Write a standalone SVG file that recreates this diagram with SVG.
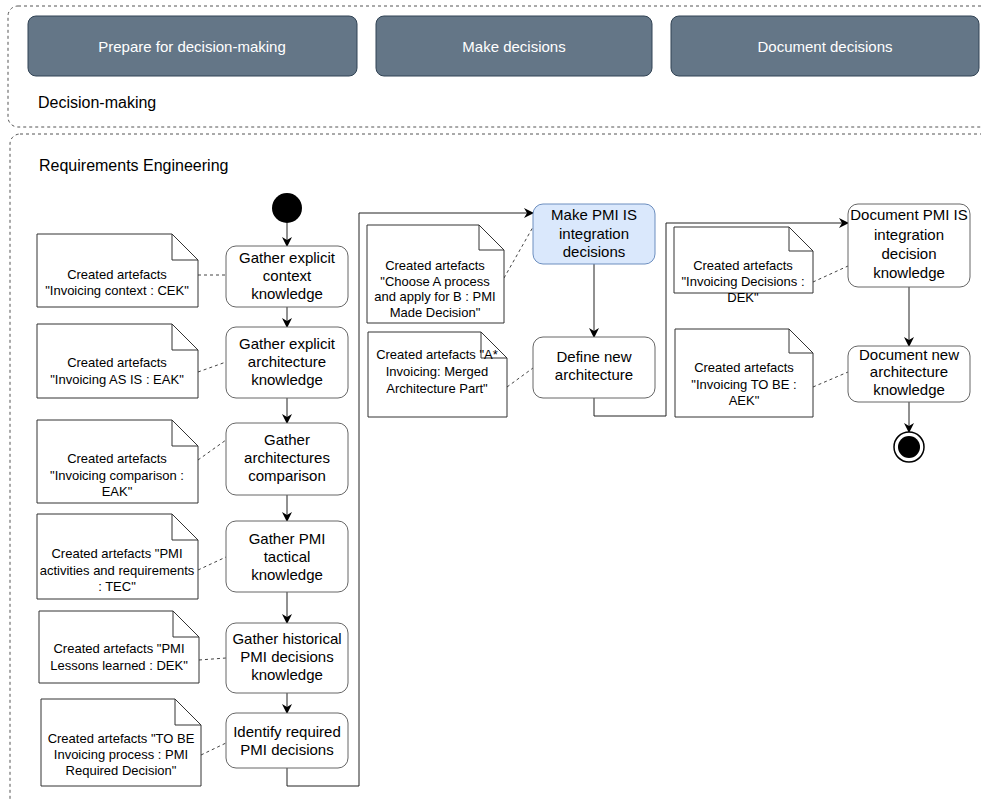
<svg xmlns="http://www.w3.org/2000/svg" width="981" height="799" viewBox="0 0 981 799">
  <style>
    .lane { fill: none; stroke: #555; stroke-width: 1; stroke-dasharray: 3 3; }
    .lane-label { font-family: "Liberation Sans", Arial, sans-serif; font-size: 16px; fill: #000; }
    .phase rect { fill: #647687; stroke: #314354; stroke-width: 1; }
    .phase text { font-family: "Liberation Sans", Arial, sans-serif; font-size: 15px; fill: #fff; text-anchor: middle; }
    .act rect { fill: #fff; stroke: #666; stroke-width: 1; }
    .act.hl rect { fill: #dae8fc; stroke: #6c8ebf; }
    .act text { font-family: "Liberation Sans", Arial, sans-serif; font-size: 15px; fill: #000; text-anchor: middle; }
    .note path { fill: #fff; stroke: #333; stroke-width: 1; }
    .note text { font-family: "Liberation Sans", Arial, sans-serif; font-size: 13px; fill: #000; text-anchor: middle; }
    .flow { fill: none; stroke: #222; stroke-width: 1; marker-end: url(#arrow); }
    .assoc { fill: none; stroke: #444; stroke-width: 1; stroke-dasharray: 3 3; }
  </style>
  <defs>
    <marker id="arrow" viewBox="0 0 10 10" refX="9" refY="5" markerWidth="10" markerHeight="10" markerUnits="userSpaceOnUse" orient="auto">
      <path d="M0,0 L10,5 L0,10 L3,5 Z" fill="#000"/>
    </marker>
  </defs>

  <!-- swimlanes -->
  <g id="lane-decision-making">
    <rect class="lane" x="8" y="6" width="990" height="121" rx="10"/>
    <text class="lane-label" x="38" y="108">Decision-making</text>
  </g>
  <g id="lane-requirements">
    <rect class="lane" x="10" y="134" width="990" height="680" rx="10"/>
    <text class="lane-label" x="39" y="171">Requirements Engineering</text>
  </g>

  <!-- phases -->
  <g id="phase-prepare" class="phase">
    <rect x="28" y="16" width="329" height="60" rx="8"/>
    <text x="192" y="52">Prepare for decision-making</text>
  </g>
  <g id="phase-make" class="phase">
    <rect x="376" y="16" width="276" height="60" rx="8"/>
    <text x="514" y="52">Make decisions</text>
  </g>
  <g id="phase-document" class="phase">
    <rect x="671" y="16" width="308" height="60" rx="8"/>
    <text x="825" y="52">Document decisions</text>
  </g>

  <!-- connectors -->
  <g id="connectors">
    <path class="flow" d="M287,223 L287,246"/>
    <path class="flow" d="M287,307 L287,327"/>
    <path class="flow" d="M287,398 L287,423"/>
    <path class="flow" d="M287,495 L287,521"/>
    <path class="flow" d="M287,592 L287,623"/>
    <path class="flow" d="M287,693 L287,713"/>
    <path class="flow" d="M287,768 L287,786 L359,786 L359,213 L533,213"/>
    <path class="flow" d="M594,264 L594,337"/>
    <path class="flow" d="M594,398 L594,416 L666,416 L666,223 L848,223"/>
    <path class="flow" d="M909,287 L909,346"/>
    <path class="flow" d="M909,402 L909,432"/>
    <!-- artefact associations -->
    <path class="assoc" d="M198,275 L226,275"/>
    <path class="assoc" d="M198,372 L226,362"/>
    <path class="assoc" d="M198,460 L226,440"/>
    <path class="assoc" d="M198,570 L226,557"/>
    <path class="assoc" d="M199,660 L226,658"/>
    <path class="assoc" d="M201,755 L226,743"/>
    <path class="assoc" d="M504,278 L533,227"/>
    <path class="assoc" d="M507,387 L533,368"/>
    <path class="assoc" d="M813,282 L848,266"/>
    <path class="assoc" d="M813,387 L848,372"/>
  </g>

  <!-- initial / final -->
  <g id="start">
    <circle cx="287" cy="208" r="15" fill="#000"/>
  </g>
  <g id="end">
    <circle cx="909" cy="447" r="15" fill="#fff" stroke="#000" stroke-width="1.5"/>
    <circle cx="909" cy="447" r="11" fill="#000"/>
  </g>

  <!-- activities -->
  <g id="act-context" class="act">
    <rect x="226" y="246" width="122" height="61" rx="10"/>
    <text x="287" y="263">Gather explicit</text>
    <text x="287" y="281">context</text>
    <text x="287" y="299">knowledge</text>
  </g>
  <g id="act-architecture" class="act">
    <rect x="226" y="327" width="122" height="71" rx="10"/>
    <text x="287" y="349">Gather explicit</text>
    <text x="287" y="367">architecture</text>
    <text x="287" y="385">knowledge</text>
  </g>
  <g id="act-comparison" class="act">
    <rect x="226" y="423" width="122" height="72" rx="10"/>
    <text x="287" y="445">Gather</text>
    <text x="287" y="463">architectures</text>
    <text x="287" y="481">comparison</text>
  </g>
  <g id="act-tactical" class="act">
    <rect x="226" y="521" width="122" height="71" rx="10"/>
    <text x="287" y="544">Gather PMI</text>
    <text x="287" y="562">tactical</text>
    <text x="287" y="580">knowledge</text>
  </g>
  <g id="act-historical" class="act">
    <rect x="226" y="623" width="122" height="70" rx="10"/>
    <text x="287" y="644">Gather historical</text>
    <text x="287" y="662">PMI decisions</text>
    <text x="287" y="680">knowledge</text>
  </g>
  <g id="act-identify" class="act">
    <rect x="226" y="713" width="122" height="55" rx="10"/>
    <text x="287" y="737">Identify required</text>
    <text x="287" y="755">PMI decisions</text>
  </g>
  <g id="act-make" class="act hl">
    <rect x="533" y="204" width="122" height="60" rx="10"/>
    <text x="594" y="220">Make PMI IS</text>
    <text x="594" y="239">integration</text>
    <text x="594" y="257">decisions</text>
  </g>
  <g id="act-define" class="act">
    <rect x="533" y="337" width="122" height="61" rx="10"/>
    <text x="594" y="362">Define new</text>
    <text x="594" y="380">architecture</text>
  </g>
  <g id="act-document-decision" class="act">
    <rect x="848" y="204" width="122" height="83" rx="10"/>
    <text x="909" y="220">Document PMI IS</text>
    <text x="909" y="240">integration</text>
    <text x="909" y="259">decision</text>
    <text x="909" y="278">knowledge</text>
  </g>
  <g id="act-document-architecture" class="act">
    <rect x="848" y="346" width="122" height="56" rx="10"/>
    <text x="909" y="360">Document new</text>
    <text x="909" y="377">architecture</text>
    <text x="909" y="395">knowledge</text>
  </g>

  <!-- artefact notes -->
  <g id="note-context" class="note">
    <path d="M37,234 H172 L198,260 V307 H37 Z M172,234 V260 H198"/>
    <text x="117" y="279">Created artefacts</text>
    <text x="117" y="295">"Invoicing context : CEK"</text>
  </g>
  <g id="note-asis" class="note">
    <path d="M37,324 H172 L198,350 V398 H37 Z M172,324 V350 H198"/>
    <text x="117" y="367">Created artefacts</text>
    <text x="117" y="384">"Invoicing AS IS : EAK"</text>
  </g>
  <g id="note-comparison" class="note">
    <path d="M37,420 H172 L198,446 V503 H37 Z M172,420 V446 H198"/>
    <text x="117" y="463">Created artefacts</text>
    <text x="117" y="480">"Invoicing comparison :</text>
    <text x="117" y="496">EAK"</text>
  </g>
  <g id="note-tactical" class="note">
    <path d="M37,514 H172 L198,540 V599 H37 Z M172,514 V540 H198"/>
    <text x="117" y="558">Created artefacts "PMI</text>
    <text x="117" y="575">activities and requirements</text>
    <text x="117" y="591">: TEC"</text>
  </g>
  <g id="note-lessons" class="note">
    <path d="M39,611 H173 L199,637 V683 H39 Z M173,611 V637 H199"/>
    <text x="119" y="653">Created artefacts "PMI</text>
    <text x="119" y="670">Lessons learned : DEK"</text>
  </g>
  <g id="note-required" class="note">
    <path d="M41,699 H175 L201,725 V786 H41 Z M175,699 V725 H201"/>
    <text x="121" y="743">Created artefacts "TO BE</text>
    <text x="121" y="759">Invoicing process : PMI</text>
    <text x="121" y="775">Required Decision"</text>
  </g>
  <g id="note-made" class="note">
    <path d="M367,225 H479 L504,250 V323 H367 Z M479,225 V250 H504"/>
    <text x="435" y="270">Created artefacts</text>
    <text x="435" y="286">"Choose A process</text>
    <text x="435" y="301">and apply for B : PMI</text>
    <text x="435" y="317">Made Decision"</text>
  </g>
  <g id="note-merged" class="note">
    <path d="M368,332 H481 L507,358 V417 H368 Z M481,332 V358 H507"/>
    <text x="437" y="359">Created artefacts "A*</text>
    <text x="437" y="376">Invoicing: Merged</text>
    <text x="437" y="393">Architecture Part"</text>
  </g>
  <g id="note-decisions" class="note">
    <path d="M674,227 H789 L813,251 V293 H674 Z M789,227 V251 H813"/>
    <text x="743" y="270">Created artefacts</text>
    <text x="743" y="286">"Invoicing Decisions :</text>
    <text x="743" y="302">DEK"</text>
  </g>
  <g id="note-tobe" class="note">
    <path d="M675,329 H789 L813,353 V417 H675 Z M789,329 V353 H813"/>
    <text x="744" y="372">Created artefacts</text>
    <text x="744" y="389">"Invoicing TO BE :</text>
    <text x="744" y="405">AEK"</text>
  </g>
</svg>
